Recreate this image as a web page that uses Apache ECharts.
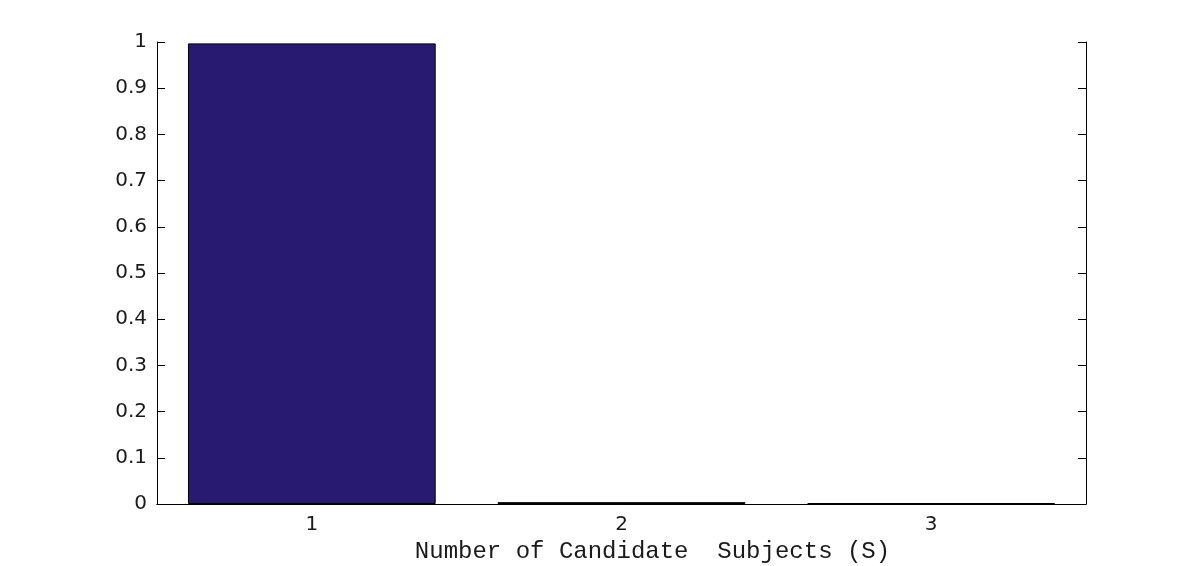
<!DOCTYPE html>
<html>
<head>
<meta charset="utf-8">
<script src="https://cdn.jsdelivr.net/npm/echarts@6/dist/echarts.min.js"></script>
<style>
  html, body { margin: 0; padding: 0; background: #fff; }
  #box { width: 1200px; height: 566px; }
</style>
</head>
<body>
<div id="box"></div>
<script>
// 数据
const categories = ["1", "2", "3"];
const values = [0.997, 0.004, 0.002];
const yTicks = [0, 0.1, 0.2, 0.3, 0.4, 0.5, 0.6, 0.7, 0.8, 0.9, 1];

const myChart = echarts.init(document.getElementById("box"));
const labelFont = { fontFamily: "DejaVu Sans", fontSize: 20, color: "#1a1a1a" };

const option = {
  animation: false,
  backgroundColor: "#fff",
  // 绘图区固定位置
  grid: { left: 157, width: 929, top: 42, height: 462, outerBoundsMode: "none", containLabel: false },
  xAxis: [
    {
      type: "category",
      data: categories,
      position: "bottom",
      name: "Number of Candidate  Subjects (S)",
      nameLocation: "middle",
      nameGap: 36,
      nameTextStyle: { fontFamily: "Liberation Mono", fontSize: 24, color: "#1a1a1a", padding: [0, 0, 0, 62] },
      axisLine: { lineStyle: { color: "#000", width: 1 } },
      axisTick: { inside: true, alignWithLabel: true, length: 8, lineStyle: { color: "#000" } },
      axisLabel: Object.assign({ margin: 11 }, labelFont)
    },
    {
      type: "category",
      data: categories,
      position: "top",
      axisLine: { lineStyle: { color: "#000", width: 1 } },
      axisTick: { inside: true, alignWithLabel: true, length: 8, lineStyle: { color: "#000" } },
      axisLabel: { show: false }
    }
  ],
  yAxis: [
    {
      type: "value",
      min: 0,
      max: 1,
      interval: 0.1,
      position: "left",
      axisLine: { show: true, lineStyle: { color: "#000", width: 1 } },
      axisTick: { show: true, inside: true, length: 8, lineStyle: { color: "#000" } },
      splitLine: { show: false },
      axisLabel: Object.assign({
        margin: 10,
        formatter: v => {
          const t = yTicks.find(x => Math.abs(x - v) < 1e-9);
          return t === undefined ? "" : String(t);
        }
      }, labelFont)
    },
    {
      type: "value",
      min: 0,
      max: 1,
      interval: 0.1,
      position: "right",
      axisLine: { show: true, lineStyle: { color: "#000", width: 1 } },
      axisTick: { show: true, inside: true, length: 8, lineStyle: { color: "#000" } },
      splitLine: { show: false },
      axisLabel: { show: false }
    }
  ],
  series: [
    {
      type: "bar",
      data: values,
      barWidth: "80%",
      itemStyle: { color: "#271a70", borderColor: "#000", borderWidth: 1 }
    }
  ]
};
myChart.setOption(option);
</script>
</body>
</html>
